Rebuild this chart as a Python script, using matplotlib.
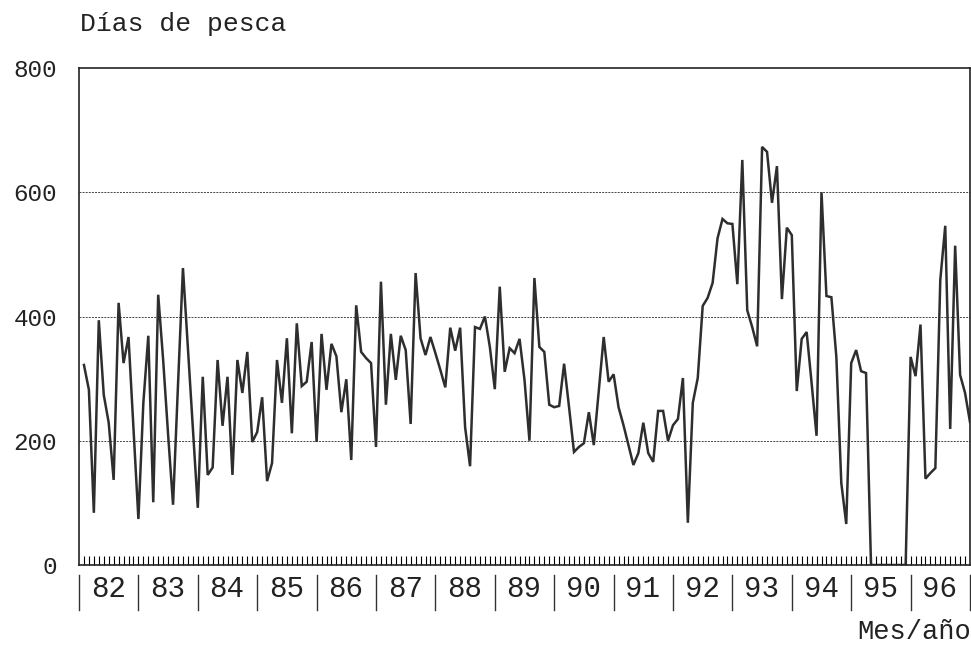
import numpy as np
import matplotlib.pyplot as plt
from matplotlib import transforms

# Días de pesca por mes, 1982-1996
years = ['82', '83', '84', '85', '86', '87', '88', '89',
         '90', '91', '92', '93', '94', '95', '96']

dias_82 = [322, 282, 84, 394, 274, 229, 137, 422, 325, 367, 220, 74]
dias_83 = [261, 369, 101, 435, 330, 210, 97, 290, 478, 350, 220, 92]
dias_84 = [303, 145, 157, 330, 224, 303, 145, 330, 277, 343, 198, 214]
dias_85 = [270, 135, 164, 330, 261, 365, 212, 389, 288, 295, 359, 198]
dias_86 = [372, 282, 356, 336, 246, 299, 169, 418, 343, 333, 325, 190]
dias_87 = [456, 258, 372, 298, 369, 346, 227, 470, 365, 338, 367, 341]
dias_88 = [314, 286, 382, 345, 382, 222, 159, 383, 380, 400, 351, 283]
dias_89 = [448, 311, 349, 341, 364, 298, 200, 462, 351, 343, 258, 254]
dias_90 = [256, 324, 254, 182, 190, 196, 246, 193, 280, 367, 295, 307]
dias_91 = [254, 225, 193, 161, 180, 229, 180, 166, 248, 248, 200, 225]
dias_92 = [235, 301, 68, 261, 301, 417, 430, 454, 526, 557, 550, 549]
dias_93 = [452, 652, 410, 383, 352, 673, 665, 583, 642, 428, 543, 531]
dias_94 = [280, 364, 375, 293, 208, 600, 433, 431, 335, 132, 66, 325]
dias_95 = [346, 312, 309, 0, 0, 0, 0, 0, 0, 0, 0, 335]
dias_96 = [304, 387, 139, 148, 156, 459, 546, 219, 514, 306, 277, 230]

dias = (dias_82 + dias_83 + dias_84 + dias_85 + dias_86 + dias_87 + dias_88 +
        dias_89 + dias_90 + dias_91 + dias_92 + dias_93 + dias_94 + dias_95 +
        dias_96)
meses = np.arange(1, len(dias) + 1)

plt.rcParams['font.family'] = ['Liberation Mono', 'DejaVu Sans Mono']

W, H = 971, 646
fig = plt.figure(figsize=(W / 100, H / 100), dpi=100)
ax = fig.add_axes([79 / W, (H - 565) / H, (970 - 79) / W, (565 - 68) / H])

ax.plot(meses, dias, color='#2e2e2e', lw=1.8, solid_joinstyle='miter')

ax.set_xlim(0, 180)
ax.set_ylim(0, 800)

# rejilla punteada
for v in [200, 400, 600]:
    ax.axhline(v, color='#444444', lw=0.7, ls=(0, (2.0, 1.2)), zorder=0)

ax.set_yticks([0, 200, 400, 600, 800])
ax.tick_params(axis='y', length=0, pad=16, labelsize=17.5,
               labelcolor='#222222')

# marcas mensuales hacia dentro
ax.set_xticks([])
ax.set_xticks(np.arange(1, 180), minor=True)
ax.tick_params(axis='x', which='minor', direction='in', length=6.5, width=0.8)

for sp in ax.spines.values():
    sp.set_linewidth(1.2)
    sp.set_color('#222222')

# separadores y etiquetas de año
trans = transforms.blended_transform_factory(ax.transData, ax.transAxes)
ah = 565 - 68
for k in range(len(years) + 1):
    ax.plot([12 * k, 12 * k], [-10 / ah, -45 / ah], color='#333333', lw=1.0,
            transform=trans, clip_on=False)
for k, yr in enumerate(years):
    ax.text(12 * k + 5.9, -24 / ah, yr, transform=trans, ha='center',
            va='center', fontsize=21, color='#222222')

fig.text(80 / W, 1 - 24 / H, 'Días de pesca', fontsize=19, va='center',
         color='#222222')
fig.text(971 / W, 1 - 632 / H, 'Mes/año', fontsize=19.5, ha='right',
         va='center', color='#222222')

fig.savefig('out.png', dpi=100)
